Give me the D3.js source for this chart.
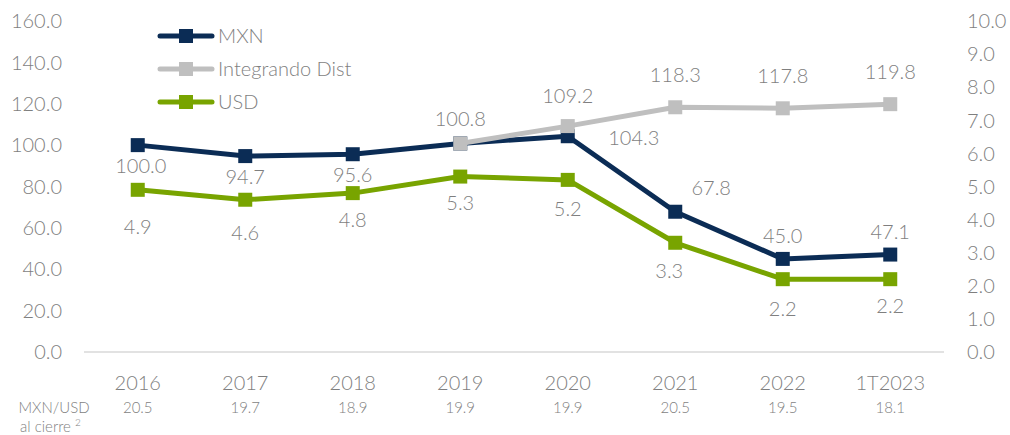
<!DOCTYPE html>
<html>
<head>
<meta charset="utf-8">
<script src="https://cdn.jsdelivr.net/npm/d3@7"></script>
<style>
  body { margin: 0; background: #fff; }
  svg text { font-family: Lato, "Open Sans", sans-serif; fill: #7f7f7f; font-weight: 300; }
</style>
</head>
<body>
<svg id="chart" width="1010" height="435"></svg>
<script>
var years = ["2016", "2017", "2018", "2019", "2020", "2021", "2022", "1T2023"];
var fxRate = ["20.5", "19.7", "18.9", "19.9", "19.9", "20.5", "19.5", "18.1"];
var mxn = [100.0, 94.7, 95.6, 100.8, 104.3, 67.8, 45.0, 47.1];
var integrando = [null, null, null, 100.8, 109.2, 118.3, 117.8, 119.8];
var usd = [4.9, 4.6, 4.8, 5.3, 5.2, 3.3, 2.2, 2.2];
var leftTicks = [0, 20, 40, 60, 80, 100, 120, 140, 160];
var rightTicks = [0, 1, 2, 3, 4, 5, 6, 7, 8, 9, 10];

// label offsets from each point: [dx, dy]
var mxnLabelPos = [[3, 21], [0, 21], [0, 21], [0, -25], [66, 2], [36, -24], [0, -23], [0, -23]];
var intLabelPos = [null, null, null, null, [0, -30], [0, -32], [0, -33], [0, -32]];
var usdLabelPos = [[0, 37], [0, 33], [0, 27], [0, 26], [0, 29], [-6, 28], [0, 30], [0, 27]];

var svg = d3.select("#chart");
var MARGINS = { left: 84, right: 944, top: 21, bottom: 352 };

var x = d3.scalePoint().domain(years).range([MARGINS.left, MARGINS.right]).padding(0.5);
var yL = d3.scaleLinear().domain([0, 160]).range([MARGINS.bottom, MARGINS.top]);
var yR = d3.scaleLinear().domain([0, 10]).range([MARGINS.bottom, MARGINS.top]);

var NAVY = "#0b2c55", GREY = "#bfbfbf", GREEN = "#78a400";

// baseline
svg.append("line")
  .attr("x1", MARGINS.left).attr("x2", MARGINS.right)
  .attr("y1", yL(0)).attr("y2", yL(0))
  .attr("stroke", "#d9d9d9").attr("stroke-width", 1.5);

// left axis labels
svg.append("g").selectAll("text").data(leftTicks).enter().append("text")
  .attr("x", 62).attr("y", function(d) { return yL(d); })
  .attr("dy", "0.36em").attr("text-anchor", "end")
  .style("font-size", "20px")
  .text(function(d) { return d.toFixed(1); });

// right axis labels
svg.append("g").selectAll("text").data(rightTicks).enter().append("text")
  .attr("x", 967).attr("y", function(d) { return yR(d); })
  .attr("dy", "0.36em").attr("text-anchor", "start")
  .style("font-size", "20px")
  .text(function(d) { return d.toFixed(1); });

// x labels
svg.append("g").selectAll("text").data(years).enter().append("text")
  .attr("x", function(d) { return x(d); }).attr("y", 390)
  .attr("text-anchor", "middle").style("font-size", "20px")
  .text(function(d) { return d; });

svg.append("g").selectAll("text").data(fxRate).enter().append("text")
  .attr("x", function(d, i) { return x(years[i]); }).attr("y", 413)
  .attr("text-anchor", "middle").style("font-size", "15px")
  .text(function(d) { return d; });

svg.append("text").attr("x", 54).attr("y", 413).attr("text-anchor", "middle")
  .style("font-size", "15px").text("MXN/USD");
var ac = svg.append("text").attr("x", 20).attr("y", 432).style("font-size", "15px");
ac.append("tspan").text("al cierre ");
ac.append("tspan").attr("dy", -6).style("font-size", "10px").text("2");

function drawSeries(values, yScale, color) {
  var pts = values.map(function(v, i) { return { year: years[i], v: v }; })
    .filter(function(d) { return d.v !== null; });
  var line = d3.line()
    .x(function(d) { return x(d.year); })
    .y(function(d) { return yScale(d.v); });
  svg.append("path")
    .attr("d", line(pts))
    .attr("stroke", color).attr("stroke-width", 5)
    .attr("stroke-linejoin", "round").attr("fill", "none");
  svg.append("g").selectAll("rect").data(pts).enter().append("rect")
    .attr("x", function(d) { return x(d.year) - 7; })
    .attr("y", function(d) { return yScale(d.v) - 7; })
    .attr("width", 14).attr("height", 14)
    .attr("fill", color);
}

drawSeries(mxn, yL, NAVY);
drawSeries(usd, yR, GREEN);
drawSeries(integrando, yL, GREY);

// data labels (index-based, values repeat)
function labels(values, yScale, pos) {
  var g = svg.append("g");
  values.forEach(function(v, i) {
    if (v === null || pos[i] === null) return;
    g.append("text")
      .attr("x", x(years[i]) + pos[i][0])
      .attr("y", yScale(v) + pos[i][1])
      .attr("dy", "0.36em")
      .attr("text-anchor", "middle").style("font-size", "20px")
      .text(v.toFixed(1));
  });
}
labels(mxn, yL, mxnLabelPos);
labels(integrando, yL, intLabelPos);
labels(usd, yR, usdLabelPos);

// legend
var legendItems = [["MXN", NAVY], ["Integrando Dist", GREY], ["USD", GREEN]];
var lg = svg.append("g");
legendItems.forEach(function(item, i) {
  var ly = 36 + i * 33;
  lg.append("line").attr("x1", 160).attr("x2", 212).attr("y1", ly).attr("y2", ly)
    .attr("stroke", item[1]).attr("stroke-width", 5).attr("stroke-linecap", "round");
  lg.append("rect").attr("x", 179).attr("y", ly - 7).attr("width", 14).attr("height", 14)
    .attr("fill", item[1]);
  lg.append("text").attr("x", 218).attr("y", ly).attr("dy", "0.36em")
    .style("font-size", "20px").text(item[0]);
});
</script>
</body>
</html>
